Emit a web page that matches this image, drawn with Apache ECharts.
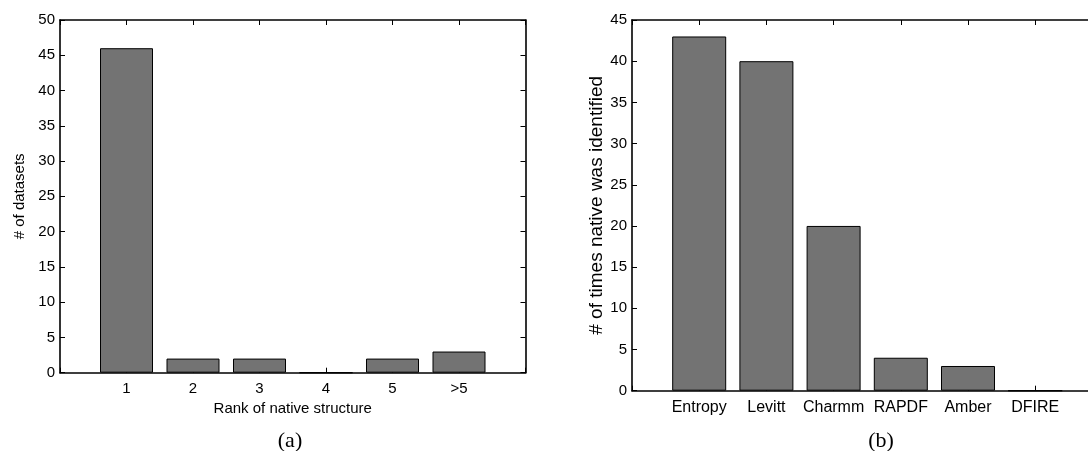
<!DOCTYPE html>
<html>
<head>
<meta charset="utf-8">
<script src="https://cdn.jsdelivr.net/npm/echarts@6/dist/echarts.min.js"></script>
<style>
  html, body { margin: 0; padding: 0; background: #fff; overflow: hidden; }
  #chart { width: 1110px; height: 451px; }
</style>
</head>
<body>
<div id="chart"></div>
<script>
// Panel (a): rank of the native structure across datasets
const rankCategories = ['1', '2', '3', '4', '5', '>5'];
const rankCounts = [46, 2, 2, 0, 2, 3];

// Panel (b): how often each scoring function identified the native
const methodCategories = ['Entropy', 'Levitt', 'Charmm', 'RAPDF', 'Amber', 'DFIRE'];
const methodCounts = [43, 40, 20, 4, 3, 0];

const FONT = '"Liberation Sans", Arial, Helvetica, sans-serif';
const BAR_COLOR = '#737373';

// bars sit at x = 1..n on a 0..n+1 value axis
const toPoints = vals => vals.map((v, i) => [i + 1, v]);

function xAxisPair(gridIndex, cats, fontSize, name, nameGap) {
  const base = {
    gridIndex,
    type: 'value',
    min: 0,
    max: cats.length + 1,
    interval: 1,
    splitLine: { show: false },
    axisLine: { onZero: false, lineStyle: { color: '#000', width: 1.6 } },
    axisTick: { inside: true, length: 5, lineStyle: { color: '#000', width: 1 } }
  };
  return [
    Object.assign({}, base, {
      position: 'bottom',
      name,
      nameLocation: 'middle',
      nameGap,
      nameTextStyle: { color: '#000', fontFamily: FONT, fontSize: 15 },
      axisLabel: {
        color: '#000', fontFamily: FONT, fontSize, margin: 9,
        formatter: v => cats[v - 1] || ''
      }
    }),
    Object.assign({}, base, { position: 'top', axisLabel: { show: false } })
  ];
}

function yAxisPair(gridIndex, max, fontSize, name, nameFont, nameGap) {
  const base = {
    gridIndex,
    type: 'value',
    min: 0,
    max,
    interval: 5,
    splitLine: { show: false },
    axisLine: { show: true, onZero: false, lineStyle: { color: '#000', width: 1.6 } },
    axisTick: { show: true, inside: true, length: 5, lineStyle: { color: '#000', width: 1 } }
  };
  return [
    Object.assign({}, base, {
      position: 'left',
      name,
      nameLocation: 'middle',
      nameGap,
      nameTextStyle: { color: '#000', fontFamily: FONT, fontSize: nameFont },
      axisLabel: { color: '#000', fontFamily: FONT, fontSize, margin: 5 }
    }),
    Object.assign({}, base, { position: 'right', axisLabel: { show: false } })
  ];
}

const barStyle = { color: BAR_COLOR, borderColor: '#000', borderWidth: 1 };

const chart = echarts.init(document.getElementById('chart'), null, { renderer: 'canvas' });
chart.setOption({
  animation: false,
  backgroundColor: '#fff',
  title: [
    { text: '(a)', left: 285, top: 425, textAlign: 'center',
      textStyle: { fontFamily: '"Liberation Serif", "Times New Roman", serif', fontWeight: 'normal', fontSize: 22, color: '#000' } },
    { text: '(b)', left: 876, top: 425, textAlign: 'center',
      textStyle: { fontFamily: '"Liberation Serif", "Times New Roman", serif', fontWeight: 'normal', fontSize: 22, color: '#000' } }
  ],
  grid: [
    { left: 60, top: 20, width: 465.5, height: 352.7 },
    { left: 632, top: 20, width: 470.4, height: 370.7 }
  ],
  xAxis: [
    ...xAxisPair(0, rankCategories, 15, 'Rank of native structure', 27),
    ...xAxisPair(1, methodCategories, 16, '', 0)
  ],
  yAxis: [
    ...yAxisPair(0, 50, 15, '# of datasets', 15, 33),
    ...yAxisPair(1, 45, 15, '# of times native was identified', 19, 26)
  ],
  series: [
    { type: 'bar', xAxisIndex: 0, yAxisIndex: 0, barWidth: 53,
      data: toPoints(rankCounts), itemStyle: barStyle },
    { type: 'bar', xAxisIndex: 2, yAxisIndex: 2, barWidth: 54,
      data: toPoints(methodCounts), itemStyle: barStyle }
  ]
});
</script>
</body>
</html>
